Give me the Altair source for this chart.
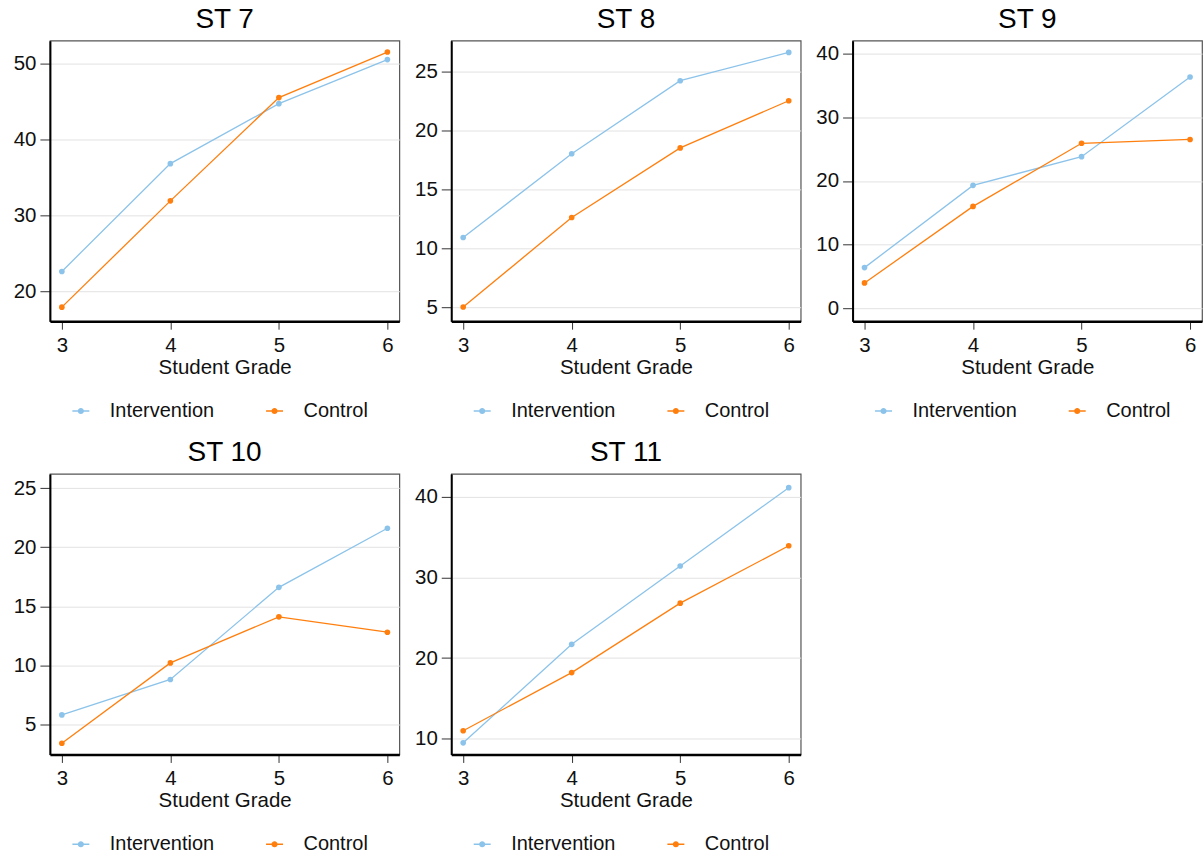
import altair as alt
import pandas as pd

# ---------------- data ----------------
grades = [3, 4, 5, 6]
groups = ["Intervention", "Control"]
panel_titles = ["ST 7", "ST 8", "ST 9", "ST 10", "ST 11"]

st7_intervention = [22.6, 36.8, 44.7, 50.5]
st7_control = [17.9, 31.9, 45.5, 51.5]
st8_intervention = [10.9, 18.0, 24.2, 26.6]
st8_control = [5.0, 12.6, 18.5, 22.5]
st9_intervention = [6.4, 19.3, 23.8, 36.3]
st9_control = [4.0, 16.0, 25.9, 26.5]
st10_intervention = [5.8, 8.8, 16.6, 21.6]
st10_control = [3.4, 10.2, 14.1, 12.8]
st11_intervention = [9.5, 21.7, 31.4, 41.1]
st11_control = [11.0, 18.2, 26.8, 33.9]

series = {
    "ST 7": (st7_intervention, st7_control),
    "ST 8": (st8_intervention, st8_control),
    "ST 9": (st9_intervention, st9_control),
    "ST 10": (st10_intervention, st10_control),
    "ST 11": (st11_intervention, st11_control),
}

y_tick_values = {
    "ST 7": [20, 30, 40, 50],
    "ST 8": [5, 10, 15, 20, 25],
    "ST 9": [0, 10, 20, 30, 40],
    "ST 10": [5, 10, 15, 20, 25],
    "ST 11": [10, 20, 30, 40],
}
y_domains = {
    "ST 7": [16.05, 53.0],
    "ST 8": [3.8, 27.6],
    "ST 9": [-2.0, 42.0],
    "ST 10": [2.45, 26.2],
    "ST 11": [8.06, 42.8],
}
x_domain = [2.89, 6.11]

# ---------------- style ----------------
FONT = "Liberation Sans"
BLUE = "#8cc3ea"
ORANGE = "#ff7f0e"
LEGEND_SYMBOL = (
    "M-1,-0.09L-0.3,-0.09L-0.3,0.09L-1,0.09Z"
    "M0.3,-0.09L1,-0.09L1,0.09L0.3,0.09Z"
    "M0.36,0A0.36,0.36,0,1,1,-0.36,0A0.36,0.36,0,1,1,0.36,0Z"
)


def make_legend():
    return alt.Legend(
        title=None,
        orient="none",
        direction="horizontal",
        legendX=21,
        legendY=361,
        symbolType=LEGEND_SYMBOL,
        symbolSize=289,
        symbolStrokeWidth=0,
        labelFontSize=20,
        labelFont=FONT,
        labelColor="#111",
        labelOffset=19,
        columnPadding=50,
        labelLimit=0,
    )


def make_panel(name):
    inter, ctrl = series[name]
    rows = []
    for g, vals in zip(groups, (inter, ctrl)):
        for x, v in zip(grades, vals):
            rows.append({"grade": x, "value": v, "group": g})
    df = pd.DataFrame(rows)

    color_scale = alt.Scale(domain=groups, range=[BLUE, ORANGE])
    color = alt.Color("group:N", scale=color_scale, sort=groups, legend=make_legend())

    base = alt.Chart(df).encode(
        x=alt.X(
            "grade:Q",
            scale=alt.Scale(domain=x_domain, nice=False, zero=False),
            axis=alt.Axis(
                values=grades,
                title="Student Grade",
                grid=False,
                format="d",
                labelFontSize=20.5,
                labelFont=FONT,
                labelColor="#111",
                labelPadding=6,
                tickSize=8,
                tickColor="#333",
                tickWidth=1,
                domainColor="#000",
                domainWidth=2.5,
                titleFontSize=20.5,
                titleFont=FONT,
                titleFontWeight="normal",
                titleColor="#111",
                titlePadding=2,
            ),
        ),
        y=alt.Y(
            "value:Q",
            scale=alt.Scale(domain=y_domains[name], nice=False, zero=False),
            axis=alt.Axis(
                values=y_tick_values[name],
                title=None,
                grid=True,
                gridColor="#e2e2e2",
                gridWidth=1,
                labelFontSize=20.5,
                labelFont=FONT,
                labelColor="#111",
                labelPadding=4,
                tickSize=10,
                tickColor="#333",
                tickWidth=1,
                domainColor="#000",
                domainWidth=2,
            ),
        ),
        color=color,
    )

    line = base.mark_line(strokeWidth=1.3)
    pts = base.mark_point(filled=True, opacity=1, size=32, shape="circle")

    return alt.layer(line, pts).properties(
        width=350,
        height=281,
        title=alt.Title(
            name,
            fontSize=28,
            font=FONT,
            fontWeight="normal",
            color="#000",
            anchor="middle",
            frame="group",
            offset=7,
        ),
    )


panels = [make_panel(n) for n in panel_titles]

chart = (
    alt.concat(*panels, columns=3, spacing={"row": 16, "column": 13})
    .resolve_scale(x="independent", y="independent", color="independent")
    .resolve_legend(color="independent")
    .properties(padding={"left": 12, "top": 4, "right": 0, "bottom": 0})
    .configure(background="white")
    .configure_view(stroke="#555", strokeWidth=1.2)
)

chart.save("out.html", embed_options={"renderer": "svg", "actions": False})
